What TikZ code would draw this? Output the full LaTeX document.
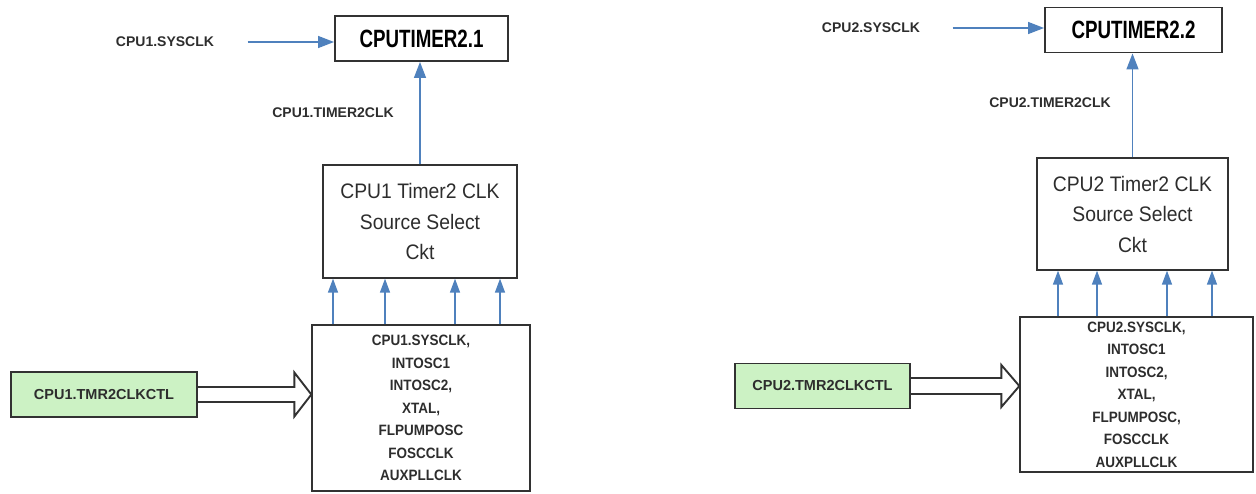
\documentclass[tikz,border=0pt]{standalone}
\usepackage{fontspec}
\setmainfont{Liberation Sans}
\newfontfamily\tmrfont[FakeStretch=0.75]{Liberation Sans}
\newfontfamily\selfont[FakeStretch=0.92]{Liberation Sans}
\newfontfamily\srcfont[FakeStretch=0.9]{Liberation Sans}
\usetikzlibrary{arrows.meta,calc}
\definecolor{arrowblue}{RGB}{79,129,189}
\definecolor{ctlgreen}{RGB}{204,242,196}
\definecolor{boxgray}{RGB}{50,50,50}
\definecolor{labelgray}{RGB}{45,45,45}

\begin{document}
\begin{tikzpicture}[x=1pt,y=-1pt,
  lbl/.style={text=labelgray,font=\fontsize{14}{16}\selectfont\bfseries},
  tmrbox/.style={draw=boxgray,line width=1.9pt,minimum height=45pt,font=\tmrfont\fontsize{25}{28}\selectfont\bfseries},
  selbox/.style={draw=boxgray,line width=1.3pt,align=center,text=labelgray,font=\selfont\fontsize{21}{30.5}\selectfont},
  srcbox/.style={draw=boxgray,line width=1.3pt,inner sep=0pt,align=center,text=labelgray,font=\srcfont\fontsize{15}{22.5}\selectfont\bfseries},
  ctlbox/.style={draw=boxgray,line width=1.6pt,fill=ctlgreen,minimum height=45pt,text=labelgray,font=\fontsize{14.5}{16}\selectfont\bfseries},
  barrow/.style={draw=arrowblue,line width=1.4pt,-{Triangle[length=16pt,width=12pt]}},
  sarrow/.style={draw=arrowblue,line width=1.4pt,-{Triangle[length=14pt,width=10pt]}},
  hollow/.style={draw=boxgray,line width=1.9pt,line join=miter}]
  \useasboundingbox (0,0) rectangle (1256,493);

  % CPU1 side
  \draw(165,42) node[lbl] (sys1) {CPU1.SYSCLK};
  \draw(421.5,38.5) node[tmrbox,minimum width=173pt] (tmr1) {CPUTIMER2.1};
  \draw(333,113) node[lbl] (tclk1) {CPU1.TIMER2CLK};
  \draw(420,221.5) node[selbox,minimum width=194pt,minimum height=113pt] (sel1)
    {CPU1 Timer2 CLK\\Source Select\\Ckt};
  \draw(421,408) node[srcbox,minimum width=218pt,minimum height=166pt] (src1)
    {CPU1.SYSCLK,\\INTOSC1\\INTOSC2,\\XTAL,\\FLPUMPOSC\\FOSCCLK\\AUXPLLCLK};
  \draw(104,394.5) node[ctlbox,minimum width=186pt] (ctl1) {CPU1.TMR2CLKCTL};

  \draw[barrow] ([xshift=30pt]sys1.east) -- (tmr1.west |- sys1.east);
  \draw[barrow] (sel1.north) -- (sel1.north |- tmr1.south);
  \foreach \x in {333,385,455,500}
    \draw[sarrow] (\x,0 |- src1.north) -- (\x,0 |- sel1.south);
  \draw[hollow] ($(ctl1.east)+(0,-7.5)$) -- ($(src1.west|-ctl1.east)+(-17,-7.5)$)
    -- ($(src1.west|-ctl1.east)+(-17,-22)$) -- (src1.west|-ctl1.east)
    -- ($(src1.west|-ctl1.east)+(-17,22)$) -- ($(src1.west|-ctl1.east)+(-17,7.5)$)
    -- ($(ctl1.east)+(0,7.5)$);

  % CPU2 side
  \draw(871,28) node[lbl] (sys2) {CPU2.SYSCLK};
  \draw(1133.5,30) node[tmrbox,minimum width=177pt] (tmr2) {CPUTIMER2.2};
  \draw(1050,103) node[lbl] (tclk2) {CPU2.TIMER2CLK};
  \draw(1132.5,214) node[selbox,minimum width=191pt,minimum height=112pt] (sel2)
    {CPU2 Timer2 CLK\\Source Select\\Ckt};
  \draw(1136.5,394.5) node[srcbox,minimum width=233pt,minimum height=155pt] (src2)
    {CPU2.SYSCLK,\\INTOSC1\\INTOSC2,\\XTAL,\\FLPUMPOSC,\\FOSCCLK\\AUXPLLCLK};
  \draw(822.5,386) node[ctlbox,minimum width=175pt] (ctl2) {CPU2.TMR2CLKCTL};

  \draw[barrow] ([xshift=29pt]sys2.east) -- (tmr2.west |- sys2.east);
  \draw[barrow] (sel2.north) -- (sel2.north |- tmr2.south);
  \foreach \x in {1058,1097,1167,1212}
    \draw[sarrow] (\x,0 |- src2.north) -- (\x,0 |- sel2.south);
  \draw[hollow] ($(ctl2.east)+(0,-8)$) -- ($(src2.west|-ctl2.east)+(-18,-8)$)
    -- ($(src2.west|-ctl2.east)+(-18,-21)$) -- (src2.west|-ctl2.east)
    -- ($(src2.west|-ctl2.east)+(-18,21)$) -- ($(src2.west|-ctl2.east)+(-18,8)$)
    -- ($(ctl2.east)+(0,8)$);
\end{tikzpicture}
\end{document}
